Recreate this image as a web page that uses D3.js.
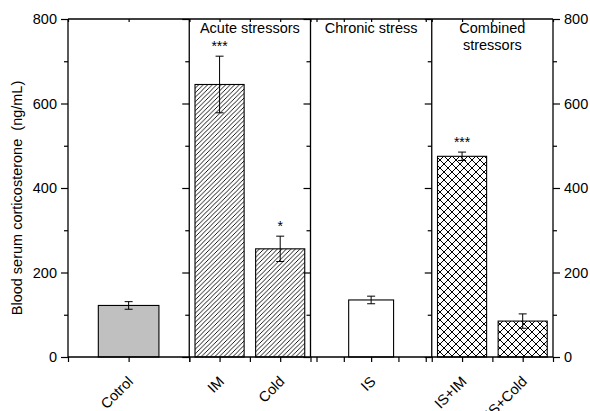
<!DOCTYPE html>
<html>
<head>
<meta charset="utf-8">
<script src="https://cdn.jsdelivr.net/npm/d3@7"></script>
<style>
    body { margin: 0; background: #fff; }
    svg text { font-family: "Liberation Sans", Arial, sans-serif; fill: #000; }
</style>
</head>
<body>
<svg id="chart" width="590" height="411"></svg>
<script>
// data

let groups = ['', 'Acute stressors', 'Chronic stress', 'Combined stressors'];
let categories = ['Cotrol', 'IM', 'Cold', 'IS', 'IS+IM', 'IS+Cold'];
let groupOf = [0, 1, 1, 2, 3, 3];
let means = [122, 645, 256, 135, 475, 85];
let errors = [9, 67, 30, 9, 10, 17];
let stars = ['', '***', '*', '', '***', ''];
let yMajor = [0, 200, 400, 600, 800];
let yMinor = [100, 300, 500, 700];

// layout

let margin = { left: 68, right: 37, top: 19, bottom: 54 };
let W = 590, H = 411;
let fontSize = '14.5px';
let svg = d3.select('#chart');

let y = d3.scaleLinear()
    .domain([0, 800])
    .range([H - margin.bottom, margin.top]);

let panelX = d3.scaleLinear()
    .domain([0, groups.length])
    .range([margin.left, W - margin.right]);

// per panel: bar band padding, bottom tick divisions, tick inset
let panelStyle = [
    { pi: 0, po: 0.5, div: 2, inset: 0 },
    { pi: 0.19, po: 0.095, div: 4, inset: 0 },
    { pi: 0, po: 0.85, div: 4, inset: 6 },
    { pi: 0.19, po: 0.095, div: 4, inset: 0 },
];

let fills = ['#c0c0c0', 'url(#hatch)', '#fff', 'url(#cross)'];

// patterns

let defs = svg.append('defs');

defs.append('pattern')
    .attr('id', 'hatch')
    .attr('patternUnits', 'userSpaceOnUse')
    .attr('width', 4.5)
    .attr('height', 4.5)
    .call(p => {
        p.append('rect').attr('width', 4.5).attr('height', 4.5).attr('fill', '#fff');
        p.append('path')
            .attr('d', 'M-1,5.5 L5.5,-1 M-1,1 L1,-1 M3.5,5.5 L5.5,3.5')
            .attr('stroke', '#000')
            .attr('stroke-width', 0.9);
    });

defs.append('pattern')
    .attr('id', 'cross')
    .attr('patternUnits', 'userSpaceOnUse')
    .attr('width', 8)
    .attr('height', 8)
    .call(p => {
        p.append('rect').attr('width', 8).attr('height', 8).attr('fill', '#fff');
        p.append('path')
            .attr('d', 'M0,0 L8,8 M0,8 L8,0')
            .attr('stroke', '#000')
            .attr('stroke-width', 1);
    });

// panel scales

let panels = groups.map((g, gi) => {
    let cats = categories.filter((c, i) => groupOf[i] == gi);
    let st = panelStyle[gi];
    let x0 = panelX(gi), x1 = panelX(gi + 1);
    let band = d3.scaleBand()
        .domain(cats)
        .range([x0, x1])
        .paddingInner(st.pi)
        .paddingOuter(st.po);
    let ticks = d3.scaleLinear()
        .domain([0, st.div])
        .range([x0 + st.inset, x1 - st.inset]);
    return { name: g, x0, x1, band, ticks, div: st.div };
});

function xOf(i) {
    return panels[groupOf[i]].band(categories[i]);
}
function bwOf(i) {
    return panels[groupOf[i]].band.bandwidth();
}

// bars

svg.append('g').selectAll('rect')
    .data(means)
    .enter()
    .append('rect')
    .attr('x', (d, i) => xOf(i))
    .attr('y', d => y(d))
    .attr('width', (d, i) => bwOf(i))
    .attr('height', d => y(0) - y(d))
    .attr('fill', (d, i) => fills[groupOf[i]])
    .attr('stroke', '#000')
    .attr('stroke-width', 1.1);

// error bars

let err = svg.append('g')
    .attr('stroke', '#000')
    .attr('stroke-width', 1)
    .selectAll('g')
    .data(means)
    .enter()
    .append('g')
    .attr('transform', (d, i) => `translate(${xOf(i) + bwOf(i) / 2},0)`);

err.append('line')
    .attr('y1', (d, i) => y(d + errors[i]))
    .attr('y2', (d, i) => y(d - errors[i]));
err.append('line')
    .attr('x1', -4).attr('x2', 4)
    .attr('y1', (d, i) => y(d + errors[i]))
    .attr('y2', (d, i) => y(d + errors[i]));
err.append('line')
    .attr('x1', -4).attr('x2', 4)
    .attr('y1', (d, i) => y(d - errors[i]))
    .attr('y2', (d, i) => y(d - errors[i]));

// significance

svg.append('g').selectAll('text')
    .data(stars)
    .enter()
    .append('text')
    .attr('x', (d, i) => xOf(i) + bwOf(i) / 2)
    .attr('y', (d, i) => y(means[i] + errors[i]) - 5)
    .attr('text-anchor', 'middle')
    .style('font-size', '14px')
    .text(d => d);

// y axes

function styleAxis(g) {
    g.select('.domain').remove();
    g.selectAll('.tick line').attr('stroke', '#000').attr('stroke-width', 1.2);
    g.selectAll('.tick text')
        .style('font-family', '"Liberation Sans", Arial, sans-serif')
        .style('font-size', fontSize)
        .attr('fill', '#000');
}

panels.forEach((p, pi) => {
    svg.append('g')
        .attr('transform', `translate(${p.x0},0)`)
        .call(d3.axisLeft(y).tickValues(yMajor).tickSize(7).tickPadding(4)
            .tickFormat(pi == 0 ? d3.format('d') : ''))
        .call(styleAxis);
    svg.append('g')
        .attr('transform', `translate(${p.x0},0)`)
        .call(d3.axisLeft(y).tickValues(yMinor).tickSize(4).tickFormat(''))
        .call(styleAxis);
});

svg.append('g')
    .attr('transform', `translate(${panelX(groups.length)},0)`)
    .call(d3.axisRight(y).tickValues(yMajor).tickSize(7).tickPadding(4))
    .call(styleAxis);
svg.append('g')
    .attr('transform', `translate(${panelX(groups.length)},0)`)
    .call(d3.axisRight(y).tickValues(yMinor).tickSize(4).tickFormat(''))
    .call(styleAxis);

// x axes

panels.forEach(p => {
    svg.append('g')
        .attr('transform', `translate(0,${y(0)})`)
        .call(d3.axisBottom(p.ticks).ticks(p.div).tickSize(5).tickFormat(''))
        .call(styleAxis);
    svg.append('g')
        .attr('transform', `translate(0,${y(800)})`)
        .call(d3.axisTop(p.ticks).ticks(p.div).tickSize(-3).tickFormat(''))
        .call(styleAxis);
});

// frame lines

let frame = svg.append('g')
    .attr('stroke', '#000')
    .attr('stroke-width', 1.3);

frame.append('line')
    .attr('x1', panelX(0)).attr('x2', panelX(groups.length))
    .attr('y1', y(0)).attr('y2', y(0));
frame.append('line')
    .attr('x1', panelX(0)).attr('x2', panelX(groups.length))
    .attr('y1', y(800)).attr('y2', y(800));
frame.selectAll('.div')
    .data(d3.range(groups.length + 1))
    .enter()
    .append('line')
    .attr('x1', d => panelX(d)).attr('x2', d => panelX(d))
    .attr('y1', y(0)).attr('y2', y(800));

// category labels

svg.append('g').selectAll('text')
    .data(categories)
    .enter()
    .append('text')
    .attr('transform', (d, i) => `translate(${xOf(i) + bwOf(i) / 2 - 2},${y(0) + 18}) rotate(-45)`)
    .attr('dy', '0.72em')
    .attr('text-anchor', 'end')
    .style('font-size', fontSize)
    .text(d => d);

// group titles

svg.append('g').selectAll('text')
    .data(panels)
    .enter()
    .append('text')
    .attr('x', d => (d.x0 + d.x1) / 2)
    .attr('y', y(800) + 14)
    .attr('text-anchor', 'middle')
    .style('font-size', fontSize)
    .each(function(d) {
        let words = d.name == 'Combined stressors' ? ['Combined', 'stressors'] : [d.name];
        d3.select(this).selectAll('tspan')
            .data(words)
            .enter()
            .append('tspan')
            .attr('x', (d.x0 + d.x1) / 2)
            .attr('dy', (w, k) => k ? '1.15em' : 0)
            .text(w => w);
    });

// y label

svg.append('text')
    .attr('transform', `translate(22,${(y(0) + y(800)) / 2 + 10}) rotate(-90)`)
    .attr('text-anchor', 'middle')
    .style('font-size', fontSize)
    .style('white-space', 'pre')
    .text('Blood serum corticosterone  (ng/mL)');
</script>
</body>
</html>
